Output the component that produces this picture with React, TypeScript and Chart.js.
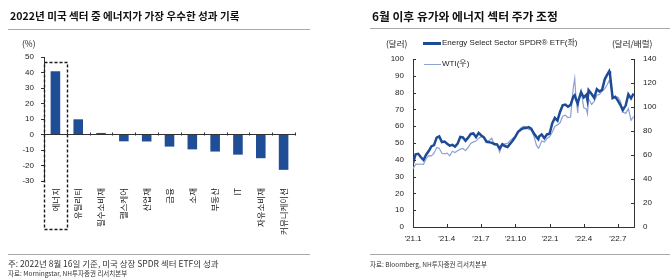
import React, { useEffect, useRef } from 'react';
import { Chart, registerables } from 'chart.js';

Chart.register(...registerables);

// ---- 2022 YTD performance of US-listed SPDR sector ETFs (%) ----
const sectors = ['에너지', '유틸리티', '필수소비재', '헬스케어', '산업재', '금융', '소재', '부동산', 'IT', '자유소비재', '커뮤니케이션'];
const sectorReturns = [40.8, 9.8, 1.0, -4.4, -4.5, -7.8, -9.6, -11.0, -13.0, -15.3, -22.8];
const returnMin = -30;
const returnMax = 50;
const returnStep = 10;

// ---- XLE (USD, left axis) vs WTI (USD/bbl, right axis) ----
const priceDates = [
  '2021-01-01', '2021-01-08', '2021-01-15', '2021-01-22', '2021-01-29', '2021-02-05', '2021-02-12', '2021-02-19', '2021-02-26',
  '2021-03-05', '2021-03-12', '2021-03-19', '2021-03-26', '2021-04-02', '2021-04-09', '2021-04-16', '2021-04-23', '2021-04-30',
  '2021-05-07', '2021-05-14', '2021-05-21', '2021-05-28', '2021-06-04', '2021-06-11', '2021-06-18', '2021-06-25', '2021-07-02',
  '2021-07-09', '2021-07-16', '2021-07-23', '2021-07-30', '2021-08-06', '2021-08-13', '2021-08-20', '2021-08-27', '2021-09-03',
  '2021-09-10', '2021-09-17', '2021-09-24', '2021-10-01', '2021-10-08', '2021-10-15', '2021-10-22', '2021-10-29', '2021-11-05',
  '2021-11-12', '2021-11-19', '2021-11-26', '2021-12-01', '2021-12-03', '2021-12-10', '2021-12-17', '2021-12-24', '2021-12-31',
  '2022-01-07', '2022-01-14', '2022-01-21', '2022-01-28', '2022-02-04', '2022-02-11', '2022-02-18', '2022-02-25', '2022-03-04',
  '2022-03-08', '2022-03-11', '2022-03-16', '2022-03-18', '2022-03-25', '2022-04-01', '2022-04-08', '2022-04-11', '2022-04-14',
  '2022-04-22', '2022-04-29', '2022-05-06', '2022-05-13', '2022-05-20', '2022-05-27', '2022-06-03', '2022-06-08', '2022-06-10',
  '2022-06-17', '2022-06-24', '2022-07-01', '2022-07-08', '2022-07-14', '2022-07-22', '2022-07-29', '2022-08-05', '2022-08-12',
];
const xlePrices = [
  37.9, 43.3, 43.6, 41.5, 39.9, 43.0, 45.2, 48.0, 48.7,
  53.2, 53.9, 50.6, 50.9, 49.6, 48.4, 48.9, 47.9, 49.6,
  53.6, 53.3, 51.3, 53.2, 55.4, 55.7, 53.5, 56.0, 54.5,
  53.4, 50.7, 50.5, 50.1, 49.4, 49.2, 46.8, 49.2, 48.2,
  47.6, 49.6, 51.5, 53.8, 56.6, 57.9, 58.8, 58.9, 59.5,
  58.6, 55.8, 53.6, 52.3, 53.9, 55.1, 52.9, 55.1, 55.5,
  61.7, 64.9, 63.3, 68.6, 72.4, 72.9, 71.6, 72.7, 77.5,
  78.5, 76.3, 73.5, 75.4, 80.2, 77.1, 78.7, 75.5, 81.5,
  79.2, 76.9, 82.0, 80.7, 81.6, 87.9, 90.8, 92.7, 90.9,
  76.7, 77.5, 75.2, 72.6, 69.6, 72.4, 79.0, 76.6, 79.4,
];
const wtiPrices = [
  48.5, 52.2, 52.4, 52.3, 52.2, 56.9, 59.5, 59.2, 61.5,
  66.1, 65.6, 61.4, 61.0, 61.5, 59.3, 63.1, 62.1, 63.6,
  64.9, 65.4, 63.6, 66.3, 69.6, 70.9, 71.6, 74.0, 75.2,
  74.6, 71.8, 72.1, 74.0, 68.3, 68.4, 62.3, 68.7, 69.3,
  69.7, 72.0, 74.0, 75.9, 79.4, 82.3, 83.8, 83.6, 81.3,
  80.8, 76.1, 68.2, 65.6, 66.3, 71.7, 70.9, 73.8, 75.2,
  78.9, 83.8, 85.1, 86.8, 92.3, 93.1, 91.1, 91.6, 115.7,
  123.7, 109.3, 95.0, 104.7, 113.9, 99.3, 98.3, 94.3, 107.0,
  102.1, 104.7, 109.8, 110.5, 113.2, 115.1, 118.9, 122.1, 120.7,
  109.6, 107.6, 108.4, 104.8, 95.8, 94.7, 98.6, 89.0, 92.1,
];
const priceAxisStart = '2021-01-01';
const priceAxisEnd = '2022-08-13';
const quarterDates = ['2021-01-01', '2021-04-01', '2021-07-01', '2021-10-01', '2022-01-01', '2022-04-01', '2022-07-01'];
const quarterLabels = ["'21.1", "'21.4", "'21.7", "'21.10", "'22.1", "'22.4", "'22.7"];

const XLE_COLOR = '#1d4b95';
const WTI_COLOR = '#8ea1d3';
const BAR_COLOR = '#1f4e96';
const AXIS_COLOR = '#333';
const TEXT_COLOR = '#222';
const KR_FONT = "'Noto Sans CJK KR', sans-serif";
const LAT_FONT = "'Liberation Sans', Arial, 'Noto Sans CJK KR', sans-serif";

const DAY_MS = 86400000;
const dayOf = (d: string) => (Date.parse(d) - Date.parse(priceAxisStart)) / DAY_MS;

// Small tick marks on the zero line between sectors, plus the dashed frame around the energy bar
const sectorMarks = {
  id: 'sectorMarks',
  afterDatasetsDraw(chart: any) {
    const { ctx, scales } = chart;
    const x = scales.x;
    const y = scales.y;
    const y0 = Math.round(y.getPixelForValue(0)) + 0.5;
    ctx.save();
    ctx.strokeStyle = AXIS_COLOR;
    ctx.lineWidth = 1;
    for (let i = 1; i <= sectors.length; i++) {
      const px = Math.round(x.getPixelForValue(i - 0.5)) + 0.5;
      ctx.beginPath();
      ctx.moveTo(px, y0);
      ctx.lineTo(px, y0 - 3);
      ctx.stroke();
    }
    const left = Math.round(x.left) + 0.5;
    const right = Math.round(x.getPixelForValue(0.5)) + 0.5;
    const top = Math.round(y.getPixelForValue(46.5)) + 0.5;
    const bottom = Math.round(y.bottom + 48) + 0.5;
    ctx.strokeStyle = '#1a1a1a';
    ctx.lineWidth = 1.4;
    ctx.setLineDash([3, 2]);
    ctx.strokeRect(left, top, right - left, bottom - top);
    ctx.restore();
  },
};

// Inward tick marks on the price chart axes
const innerTicks = {
  id: 'innerTicks',
  afterDraw(chart: any) {
    const { ctx, scales, chartArea } = chart;
    ctx.save();
    ctx.strokeStyle = AXIS_COLOR;
    ctx.lineWidth = 1;
    ctx.beginPath();
    quarterDates.forEach((d) => {
      const px = Math.round(scales.x.getPixelForValue(dayOf(d))) + 0.5;
      ctx.moveTo(px, chartArea.bottom);
      ctx.lineTo(px, chartArea.bottom - 3);
    });
    scales.y.ticks.forEach((t: any) => {
      const py = Math.round(scales.y.getPixelForValue(t.value)) + 0.5;
      ctx.moveTo(chartArea.left, py);
      ctx.lineTo(chartArea.left + 3, py);
    });
    scales.y1.ticks.forEach((t: any) => {
      const py = Math.round(scales.y1.getPixelForValue(t.value)) + 0.5;
      ctx.moveTo(chartArea.right, py);
      ctx.lineTo(chartArea.right - 3, py);
    });
    ctx.stroke();
    ctx.restore();
  },
};

const abs = (style: React.CSSProperties): React.CSSProperties => ({ position: 'absolute', whiteSpace: 'nowrap', ...style });

export default function App() {
  const barRef = useRef<HTMLCanvasElement>(null);
  const lineRef = useRef<HTMLCanvasElement>(null);

  useEffect(() => {
    const barChart = new Chart(barRef.current as HTMLCanvasElement, {
      type: 'bar',
      data: {
        labels: sectors,
        datasets: [
          {
            data: sectorReturns,
            backgroundColor: BAR_COLOR,
            categoryPercentage: 1,
            barPercentage: 0.42,
          },
        ],
      },
      options: {
        responsive: false,
        animation: false,
        layout: { padding: { top: 57, left: 0, right: 40, bottom: 0 } },
        plugins: { legend: { display: false }, tooltip: { enabled: false } },
        scales: {
          x: {
            grid: { display: false, drawTicks: false },
            border: { display: false },
            ticks: {
              autoSkip: false,
              minRotation: 90,
              maxRotation: 90,
              padding: 7,
              color: TEXT_COLOR,
              font: { family: KR_FONT, size: 8.5 },
            },
            afterFit: (s: any) => {
              s.height = 97;
            },
          },
          y: {
            min: returnMin,
            max: returnMax,
            ticks: { stepSize: returnStep, padding: 7, color: TEXT_COLOR, font: { family: LAT_FONT, size: 8 } },
            grid: {
              drawTicks: true,
              tickLength: 3,
              tickColor: AXIS_COLOR,
              color: (c: any) => (c.tick && c.tick.value === 0 ? AXIS_COLOR : 'rgba(0,0,0,0)'),
            },
            border: { display: true, color: AXIS_COLOR, width: 1 },
            afterFit: (s: any) => {
              s.width = 44;
            },
          },
        },
      },
      plugins: [sectorMarks],
    } as any);

    const lineChart = new Chart(lineRef.current as HTMLCanvasElement, {
      type: 'line',
      data: {
        datasets: [
          {
            label: 'Energy Select Sector SPDR® ETF(좌)',
            data: priceDates.map((d, i) => ({ x: dayOf(d), y: xlePrices[i] })),
            borderColor: XLE_COLOR,
            borderWidth: 2.5,
            pointRadius: 0,
            yAxisID: 'y',
            order: 0,
          },
          {
            label: 'WTI(우)',
            data: priceDates.map((d, i) => ({ x: dayOf(d), y: wtiPrices[i] })),
            borderColor: WTI_COLOR,
            borderWidth: 1.2,
            pointRadius: 0,
            yAxisID: 'y1',
            order: 1,
          },
        ],
      },
      options: {
        responsive: false,
        animation: false,
        layout: { padding: { top: 59, left: 0, right: 0, bottom: 0 } },
        plugins: { legend: { display: false }, tooltip: { enabled: false } },
        scales: {
          x: {
            type: 'linear',
            min: 0,
            max: dayOf(priceAxisEnd),
            afterBuildTicks: (s: any) => {
              s.ticks = quarterDates.map((d) => ({ value: dayOf(d) }));
            },
            ticks: {
              autoSkip: false,
              maxRotation: 0,
              padding: 7,
              color: TEXT_COLOR,
              font: { family: LAT_FONT, size: 8 },
              callback: (v: any) => {
                const i = quarterDates.findIndex((d) => dayOf(d) === v);
                return i >= 0 ? quarterLabels[i] : '';
              },
            },
            grid: { display: false, drawTicks: false },
            border: { display: true, color: AXIS_COLOR },
            afterFit: (s: any) => {
              s.height = 51;
            },
          },
          y: {
            position: 'left',
            min: 0,
            max: 100,
            ticks: { stepSize: 10, padding: 9, color: TEXT_COLOR, font: { family: LAT_FONT, size: 8 } },
            grid: { display: false, drawTicks: false },
            border: { display: true, color: AXIS_COLOR },
            afterFit: (s: any) => {
              s.width = 78;
            },
          },
          y1: {
            position: 'right',
            min: 0,
            max: 140,
            ticks: { stepSize: 20, padding: 9, color: TEXT_COLOR, font: { family: LAT_FONT, size: 8 } },
            grid: { display: false, drawTicks: false },
            border: { display: true, color: AXIS_COLOR },
            afterFit: (s: any) => {
              s.width = 36;
            },
          },
        },
      },
      plugins: [innerTicks],
    } as any);

    return () => {
      barChart.destroy();
      lineChart.destroy();
    };
  }, []);

  const title: React.CSSProperties = { fontFamily: KR_FONT, fontWeight: 700, lineHeight: '14px', color: '#111' };
  const unit: React.CSSProperties = { fontFamily: KR_FONT, fontSize: 8.5, lineHeight: '10px', color: TEXT_COLOR };
  const note: React.CSSProperties = { fontFamily: KR_FONT, fontSize: 8.5, lineHeight: '10px', color: '#333' };
  const source: React.CSSProperties = { fontFamily: KR_FONT, fontSize: 6.5, lineHeight: '10px', color: '#333' };
  const legendText: React.CSSProperties = { fontFamily: LAT_FONT, fontSize: 8, lineHeight: '10px', color: TEXT_COLOR };
  const rule: React.CSSProperties = { height: 1, background: '#aaa' };

  return (
    <div style={{ position: 'fixed', left: 0, top: 0, width: 670, height: 278, background: '#fff', overflow: 'hidden' }}>
      <canvas ref={barRef} width={335} height={278} style={{ position: 'absolute', left: 0, top: 0, width: 335, height: 278 }} />
      <canvas ref={lineRef} width={335} height={278} style={{ position: 'absolute', left: 335, top: 0, width: 335, height: 278 }} />

      {/* left panel */}
      <div style={abs({ ...title, fontSize: 10.6, left: 10, top: 9 })}>2022년 미국 섹터 중 에너지가 가장 우수한 성과 기록</div>
      <div style={abs({ ...rule, left: 8, top: 29, width: 302 })} />
      <div style={abs({ ...unit, left: 22, top: 38 })}>(%)</div>
      <div style={abs({ ...rule, left: 8, top: 254, width: 302 })} />
      <div style={abs({ ...note, left: 8, top: 258 })}>주: 2022년 8월 16일 기준, 미국 상장 SPDR 섹터 ETF의 성과</div>
      <div style={abs({ ...source, left: 8, top: 268 })}>자료: Morningstar, NH투자증권 리서치본부</div>

      {/* right panel */}
      <div style={abs({ ...title, fontSize: 11.8, left: 372, top: 9 })}>6월 이후 유가와 에너지 섹터 주가 조정</div>
      <div style={abs({ ...rule, left: 370, top: 28, width: 300 })} />
      <div style={abs({ ...unit, left: 386, top: 38 })}>(달러)</div>
      <div style={abs({ ...unit, left: 612, top: 38 })}>(달러/배럴)</div>
      <div style={abs({ left: 423, top: 42, width: 18, height: 2.5, background: XLE_COLOR })} />
      <div style={abs({ ...legendText, left: 442, top: 38 })}>Energy Select Sector SPDR® ETF(좌)</div>
      <div style={abs({ left: 424, top: 63.5, width: 17, height: 1, background: WTI_COLOR })} />
      <div style={abs({ ...legendText, left: 442, top: 59 })}>WTI(우)</div>
      <div style={abs({ ...rule, left: 370, top: 254, width: 300 })} />
      <div style={abs({ ...source, left: 370, top: 259 })}>자료: Bloomberg, NH투자증권 리서치본부</div>
    </div>
  );
}
